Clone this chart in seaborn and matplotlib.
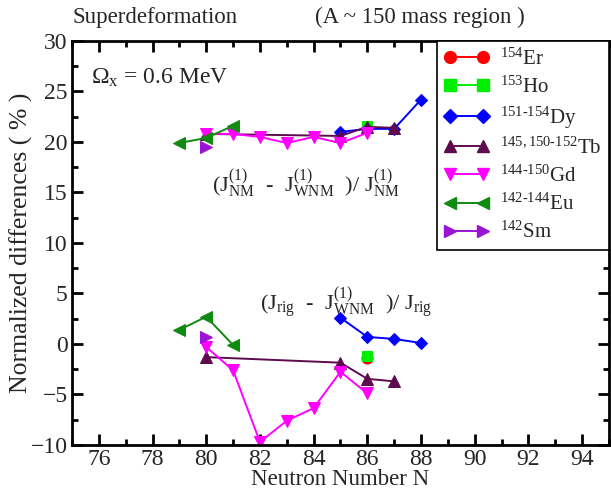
import matplotlib
matplotlib.use("Agg")
import matplotlib.pyplot as plt
import seaborn as sns
import pandas as pd
from matplotlib.lines import Line2D
from matplotlib.ticker import MultipleLocator

sns.set_style("ticks")
plt.rcParams['font.family'] = ['Liberation Serif', 'DejaVu Serif']
plt.rcParams['mathtext.fontset'] = 'custom'
plt.rcParams['mathtext.rm'] = 'Liberation Serif'
plt.rcParams['mathtext.it'] = 'Liberation Serif'
plt.rcParams['mathtext.bf'] = 'Liberation Serif:bold'

# ---- data ----
names = ["Er", "Ho", "Dy", "Tb", "Gd", "Eu", "Sm"]
labels = [r"$^{154}$Er", r"$^{153}$Ho", r"$^{151\text{-}154}$Dy", r"$^{145,150\text{-}152}$Tb",
          r"$^{144\text{-}150}$Gd", r"$^{142\text{-}144}$Eu", r"$^{142}$Sm"]

# upper curves: (J_NM - J_WNM)/J_NM
up_N = {
    "Er": [],
    "Ho": [86],
    "Dy": [85, 86, 87, 88],
    "Tb": [80, 85, 86, 87],
    "Gd": [80, 81, 82, 83, 84, 85, 86],
    "Eu": [79, 80, 81],
    "Sm": [80],
}
up_val = {
    "Er": [],
    "Ho": [21.6],
    "Dy": [21.0, 21.3, 21.3, 24.2],
    "Tb": [20.8, 20.6, 21.5, 21.4],
    "Gd": [20.8, 20.8, 20.5, 19.9, 20.5, 19.9, 20.9],
    "Eu": [19.9, 20.4, 21.6],
    "Sm": [19.5],
}
# lower curves: (J_rig - J_WNM)/J_rig
lo_N = {
    "Er": [86],
    "Ho": [86],
    "Dy": [85, 86, 87, 88],
    "Tb": [80, 85, 86, 87],
    "Gd": [80, 81, 82, 83, 84, 85, 86],
    "Eu": [79, 80, 81],
    "Sm": [80],
}
lo_val = {
    "Er": [-1.4],
    "Ho": [-1.2],
    "Dy": [2.6, 0.7, 0.5, 0.1],
    "Tb": [-1.3, -1.85, -3.45, -3.7],
    "Gd": [-0.3, -2.6, -9.7, -7.6, -6.35, -2.75, -4.9],
    "Eu": [1.4, 2.7, -0.1],
    "Sm": [0.7],
}

colors = {"Er": "#ff0000", "Ho": "#00ee00", "Dy": "#0000ff", "Tb": "#5e0b4e",
          "Gd": "#ff00ff", "Eu": "#118a11", "Sm": "#9a14d6"}
markers = {"Er": "o", "Ho": "s", "Dy": "D", "Tb": "^", "Gd": "v", "Eu": "<", "Sm": ">"}
msize = {"Er": 8, "Ho": 7.5, "Dy": 6.5, "Tb": 8, "Gd": 8.5, "Eu": 8.5, "Sm": 8.5}

fig = plt.figure(figsize=(6.11, 4.91), dpi=100)
ax = fig.add_axes([0.1178, 0.0937, 0.8789, 0.8228])

for nm in names:
    for Ns, vals in ((up_N[nm], up_val[nm]), (lo_N[nm], lo_val[nm])):
        if not Ns:
            continue
        df = pd.DataFrame({"N": Ns, "v": vals})
        sns.lineplot(data=df, x="N", y="v", ax=ax, color=colors[nm], marker=markers[nm],
                     markersize=msize[nm], markeredgecolor=colors[nm], linewidth=1.4,
                     legend=False, sort=False)

ax.set_xlim(75, 95)
ax.set_ylim(-10, 30)
ax.xaxis.set_major_locator(MultipleLocator(2))
ax.xaxis.set_minor_locator(MultipleLocator(1))
ax.yaxis.set_major_locator(MultipleLocator(5))
ax.yaxis.set_minor_locator(MultipleLocator(2.5))
ax.tick_params(which="both", direction="in", top=True, right=True, labelsize=17, width=2, color="black")
ax.tick_params(which="major", length=8, pad=3)
ax.tick_params(which="minor", length=4)
for s in ax.spines.values():
    s.set_linewidth(2)
    s.set_color("black")
ax.set_xlabel("Neutron Number N", fontsize=16.5, labelpad=-1)
ax.set_ylabel("Normalized differences ( % )", fontsize=18.5)
ax.yaxis.set_label_coords(-0.072, 0.5)

ax.text(75.7, 26.4, r"$\Omega_{\mathrm{x}}$ = 0.6 MeV", fontsize=17, va="center", ha="left")
ax.text(83.7, 15.8, r"$(\mathrm{J}_{\mathrm{NM}}^{(1)}\ \ \text{-}\ \ \mathrm{J}_{\mathrm{WNM}}^{(1)}\ \ )/\ \mathrm{J}_{\mathrm{NM}}^{(1)}$",
        fontsize=16, ha="center", va="center")
ax.text(85.2, 4.0, r"$(\mathrm{J}_{\mathrm{rig}}\ \ \text{-}\ \ \mathrm{J}_{\mathrm{WNM}}^{(1)}\ \ )/\ \mathrm{J}_{\mathrm{rig}}$",
        fontsize=16, ha="center", va="center")

fig.text(72 / 611, 1 - 17 / 491, "Superdeformation", fontsize=16.5, ha="left", va="center")
fig.text(420 / 611, 1 - 17 / 491, "(A ~ 150 mass region )", fontsize=16.5, ha="center", va="center")

handles = [Line2D([0], [0], color=colors[n], marker=markers[n], markersize=msize[n] + 0.5,
                  markeredgecolor=colors[n], linewidth=1.4) for n in names]
leg = ax.legend(handles, labels, loc="upper right", bbox_to_anchor=(1, 1), borderaxespad=0,
                numpoints=2, fontsize=15, handlelength=2.2, fancybox=False, frameon=True,
                edgecolor="black", framealpha=1, labelspacing=0.33, borderpad=0.35,
                handletextpad=0.5)
leg.get_frame().set_linewidth(1.2)

fig.savefig("out.png", dpi=100)
